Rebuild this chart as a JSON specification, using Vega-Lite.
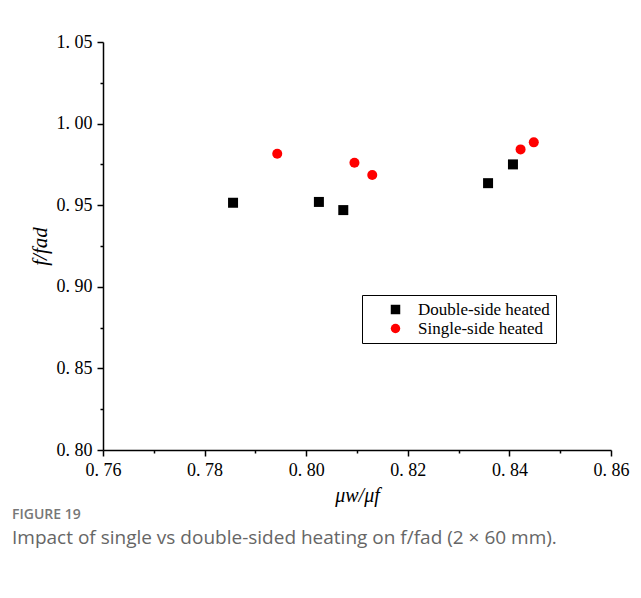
{
  "$schema": "https://vega.github.io/schema/vega-lite/v6.json",
  "autosize": "none",
  "width": 508,
  "height": 408,
  "padding": {"left": 103, "top": 42, "right": 30, "bottom": 148},
  "background": "white",
  "config": {"view": {"stroke": null}},
  "title": {
    "text": "FIGURE 19",
    "subtitle": "Impact of single vs double-sided heating on f/fad (2 × 60 mm).",
    "orient": "bottom",
    "anchor": "start",
    "frame": "group",
    "dx": -91,
    "offset": 3,
    "font": "Open Sans",
    "fontSize": 14,
    "fontWeight": 600,
    "color": "#777777",
    "subtitleFont": "Open Sans",
    "subtitleFontSize": 19,
    "subtitleColor": "#666666",
    "subtitlePadding": 7
  },
  "data": {
    "values": [
      {"x": 0.7856, "y": 0.9515, "series": "Double-side heated"},
      {"x": 0.8025, "y": 0.9520, "series": "Double-side heated"},
      {"x": 0.8073, "y": 0.9470, "series": "Double-side heated"},
      {"x": 0.8358, "y": 0.9635, "series": "Double-side heated"},
      {"x": 0.8407, "y": 0.9750, "series": "Double-side heated"},
      {"x": 0.7943, "y": 0.9815, "series": "Single-side heated"},
      {"x": 0.8095, "y": 0.9760, "series": "Single-side heated"},
      {"x": 0.8130, "y": 0.9685, "series": "Single-side heated"},
      {"x": 0.8422, "y": 0.9842, "series": "Single-side heated"},
      {"x": 0.8448, "y": 0.9885, "series": "Single-side heated"}
    ]
  },
  "mark": {"type": "point", "filled": true, "opacity": 1, "size": 100},
  "encoding": {
    "x": {
      "field": "x",
      "type": "quantitative",
      "scale": {"domain": [0.76, 0.86], "nice": false, "zero": false},
      "axis": {
        "values": [0.76, 0.77, 0.78, 0.79, 0.80, 0.81, 0.82, 0.83, 0.84, 0.85, 0.86],
        "labelExpr": "abs(round(datum.value*100) % 2) == 1 ? '' : replace(format(datum.value, '.2f'), '.', '. ')",
        "tickSize": {"condition": {"test": "abs(round(datum.value*100) % 2) == 1", "value": 3}, "value": 6},
        "grid": false,
        "domainColor": "black",
        "domainWidth": 1.5,
        "tickColor": "black",
        "tickWidth": 1.5,
        "labelFont": "Liberation Serif",
        "labelFontSize": 18,
        "labelColor": "black",
        "labelPadding": 5,
        "labelFlush": false,
        "title": "μw/μf",
        "titleFont": "Liberation Serif",
        "titleFontStyle": "italic",
        "titleFontWeight": "normal",
        "titleFontSize": 20,
        "titleColor": "black",
        "titlePadding": 6
      }
    },
    "y": {
      "field": "y",
      "type": "quantitative",
      "scale": {"domain": [0.80, 1.05], "nice": false, "zero": false},
      "axis": {
        "values": [0.80, 0.825, 0.85, 0.875, 0.90, 0.925, 0.95, 0.975, 1.00, 1.025, 1.05],
        "labelExpr": "round(datum.value*1000) % 50 != 0 ? '' : replace(format(datum.value, '.2f'), '.', '. ')",
        "tickSize": {"condition": {"test": "round(datum.value*1000) % 50 != 0", "value": 3}, "value": 6},
        "grid": false,
        "domainColor": "black",
        "domainWidth": 1.5,
        "tickColor": "black",
        "tickWidth": 1.5,
        "labelFont": "Liberation Serif",
        "labelFontSize": 18,
        "labelColor": "black",
        "labelPadding": 5,
        "labelFlush": false,
        "title": "f/fad",
        "titleFont": "Liberation Serif",
        "titleFontStyle": "italic",
        "titleFontWeight": "normal",
        "titleFontSize": 21,
        "titleColor": "black",
        "titlePadding": 6
      }
    },
    "shape": {
      "field": "series",
      "type": "nominal",
      "scale": {"domain": ["Double-side heated", "Single-side heated"], "range": ["square", "circle"]},
      "legend": {
        "orient": "none",
        "legendX": 259,
        "legendY": 253,
        "title": null,
        "strokeColor": "black",
        "padding": 6,
        "fillColor": "white",
        "labelFont": "Liberation Serif",
        "labelFontSize": 17,
        "labelColor": "black",
        "symbolSize": 90,
        "symbolOpacity": 1,
        "symbolOffset": 19,
        "labelOffset": 14,
        "rowPadding": 1
      }
    },
    "color": {
      "field": "series",
      "type": "nominal",
      "scale": {"domain": ["Double-side heated", "Single-side heated"], "range": ["black", "#ff0000"]},
      "legend": {
        "orient": "none",
        "legendX": 259,
        "legendY": 253,
        "title": null,
        "strokeColor": "black",
        "padding": 6,
        "fillColor": "white",
        "labelFont": "Liberation Serif",
        "labelFontSize": 17,
        "labelColor": "black",
        "symbolSize": 90,
        "symbolOpacity": 1,
        "symbolOffset": 19,
        "labelOffset": 14,
        "rowPadding": 1
      }
    }
  }
}
